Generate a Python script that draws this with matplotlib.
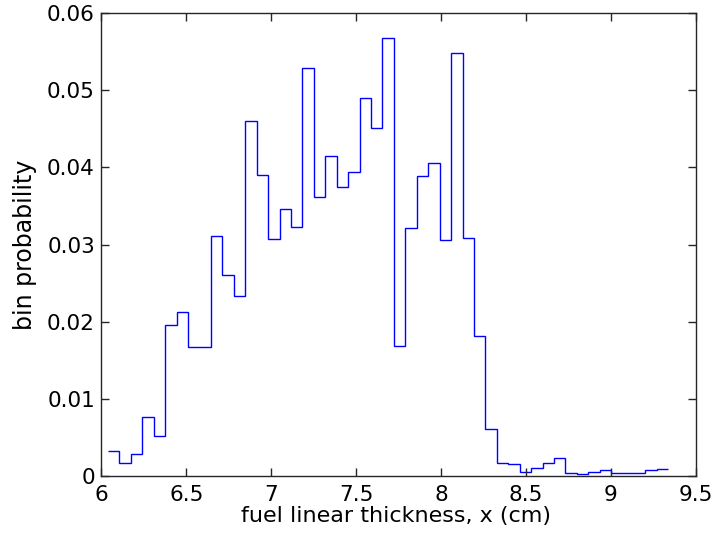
import numpy as np
import matplotlib
matplotlib.use("Agg")
from matplotlib import pyplot as plt

# histogram of fuel linear thickness, 49 equal bins
bin_start = 6.039
bin_stop = 9.339
n_bins = 49
bin_prob = [
    0.0033, 0.0018, 0.0029, 0.0077, 0.0052, 0.0196, 0.0213, 0.0167, 0.0167, 0.0311,
    0.0261, 0.0233, 0.0460, 0.0390, 0.0307, 0.0346, 0.0323, 0.0528, 0.0362, 0.0415,
    0.0375, 0.0394, 0.0490, 0.0451, 0.0567, 0.0169, 0.0321, 0.0389, 0.0406, 0.0306,
    0.0548, 0.0309, 0.0182, 0.0061, 0.0017, 0.0016, 0.0006, 0.0011, 0.0017, 0.0024,
    0.0005, 0.0003, 0.0006, 0.0008, 0.0005, 0.0005, 0.0005, 0.0008, 0.0010,
]
x_ticks = [6, 6.5, 7, 7.5, 8, 8.5, 9, 9.5]
x_tick_labels = ["6", "6.5", "7", "7.5", "8", "8.5", "9", "9.5"]
y_ticks = [0, 0.01, 0.02, 0.03, 0.04, 0.05, 0.06]
y_tick_labels = ["0", "0.01", "0.02", "0.03", "0.04", "0.05", "0.06"]

edges = np.linspace(bin_start, bin_stop, n_bins + 1)

plt.rcParams["font.family"] = ["DejaVu Sans"]

fig = plt.figure(figsize=(7.15, 5.45), dpi=100)
ax = fig.add_axes([0.1418, 0.1257, 0.8312, 0.851])

ax.stairs(bin_prob, edges, baseline=None, color="#0000ff", linewidth=1.0)

ax.set_xlim(6, 9.5)
ax.set_ylim(0, 0.06)
ax.set_xticks(x_ticks)
ax.set_xticklabels(x_tick_labels)
ax.set_yticks(y_ticks)
ax.set_yticklabels(y_tick_labels)
ax.tick_params(direction="in", length=6, width=1, labelsize=15.5,
               top=True, right=True, color="#262626")
ax.tick_params(axis="x", pad=6)
ax.tick_params(axis="y", pad=4.6)
for s in ax.spines.values():
    s.set_linewidth(1)
    s.set_color("#262626")

ax.set_xlabel("fuel linear thickness, x (cm)", fontsize=16, va="baseline")
ax.xaxis.set_label_coords(0.4955, -0.098)
ax.set_ylabel("bin probability", fontsize=17, va="baseline")
ax.yaxis.set_label_coords(-0.1173, 0.5)

fig.savefig("out.png", dpi=100)
